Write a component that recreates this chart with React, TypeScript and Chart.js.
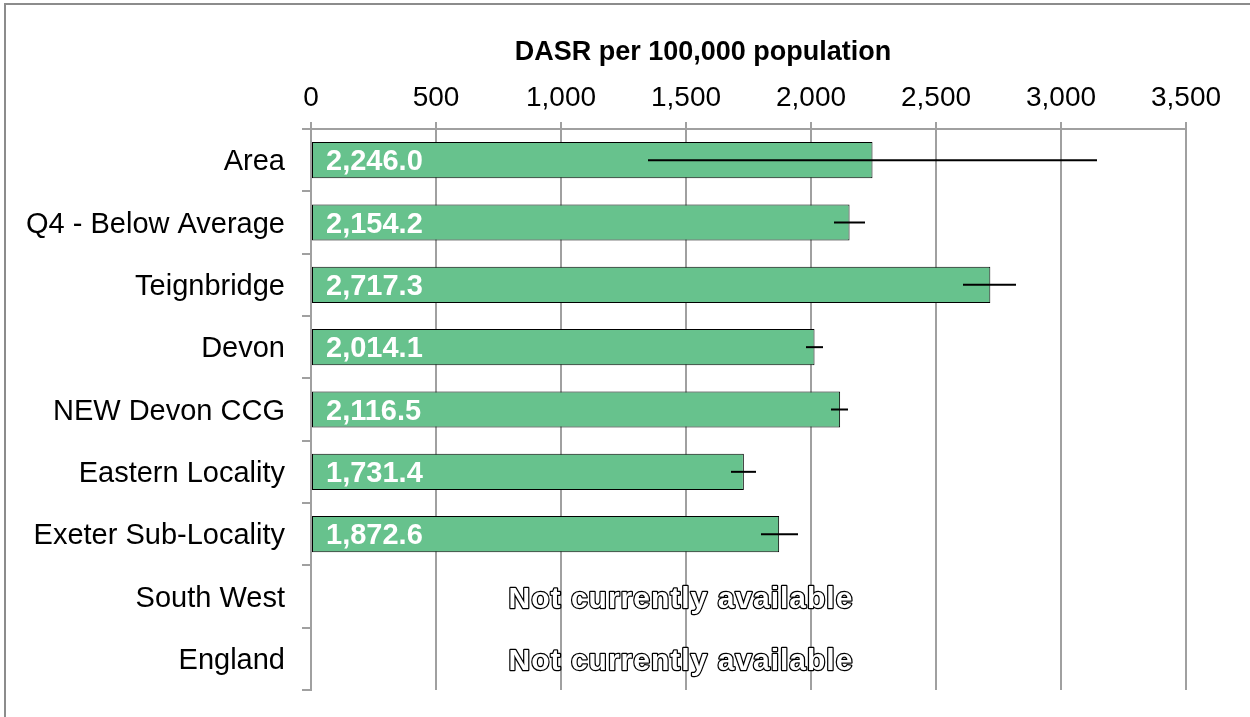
import React, { useEffect, useRef } from "react";
import { Chart, registerables } from "chart.js";

Chart.register(...registerables);

const categories = [
  "Area",
  "Q4 - Below Average",
  "Teignbridge",
  "Devon",
  "NEW Devon CCG",
  "Eastern Locality",
  "Exeter Sub-Locality",
  "South West",
  "England",
];
const values: (number | null)[] = [2246.0, 2154.2, 2717.3, 2014.1, 2116.5, 1731.4, 1872.6, null, null];
const errLow: (number | null)[] = [1348, 2092, 2608, 1980, 2080, 1680, 1800, null, null];
const errHigh: (number | null)[] = [3144, 2216, 2820, 2048, 2148, 1780, 1948, null, null];
const xTicks = [0, 500, 1000, 1500, 2000, 2500, 3000, 3500];
const naText = "Not currently available";
const naAnchorValue = 1480;
const axisTitle = "DASR per 100,000 population";

const FONT = "'Liberation Sans', Arial, sans-serif";

const overlayPlugin = {
  id: "overlay",
  afterDatasetsDraw(chart: any) {
    const ctx = chart.ctx;
    const xs = chart.scales.x;
    const ys = chart.scales.y;
    ctx.save();
    // axis title
    ctx.font = `bold 27px ${FONT}`;
    ctx.fillStyle = "#000";
    ctx.textAlign = "center";
    ctx.textBaseline = "middle";
    ctx.fillText(axisTitle, 703, 53);
    // error bars
    ctx.strokeStyle = "#000";
    ctx.lineWidth = 2;
    for (let i = 0; i < categories.length; i++) {
      const lo = errLow[i];
      const hi = errHigh[i];
      if (lo == null || hi == null) continue;
      const y = ys.getPixelForValue(i);
      ctx.beginPath();
      ctx.moveTo(xs.getPixelForValue(lo), y);
      ctx.lineTo(xs.getPixelForValue(hi), y);
      ctx.stroke();
    }
    // value labels
    ctx.textBaseline = "middle";
    for (let i = 0; i < categories.length; i++) {
      const v = values[i];
      const y = ys.getPixelForValue(i);
      if (v == null) {
        ctx.font = `bold 30px ${FONT}`;
        (ctx as any).letterSpacing = "1px";
        ctx.textAlign = "center";
        ctx.fillStyle = "#fff";
        ctx.strokeStyle = "#000";
        ctx.lineWidth = 2.5;
        ctx.lineJoin = "round";
        const x = xs.getPixelForValue(naAnchorValue);
        ctx.strokeText(naText, x, y + 3);
        ctx.fillText(naText, x, y + 3);
        (ctx as any).letterSpacing = "0px";
      } else {
        ctx.font = `bold 29px ${FONT}`;
        ctx.textAlign = "left";
        ctx.fillStyle = "#fff";
        const txt = v.toLocaleString("en-GB", { minimumFractionDigits: 1, maximumFractionDigits: 1 });
        ctx.fillText(txt, xs.getPixelForValue(0) + 15, y + 2);
      }
    }
    ctx.restore();
  },
};

export default function App() {
  const ref = useRef<HTMLCanvasElement>(null);
  useEffect(() => {
    if (!ref.current) return;
    const chart = new Chart(ref.current, {
      type: "bar",
      data: {
        labels: categories,
        datasets: [
          {
            data: values as any,
            backgroundColor: "#67C28D",
            borderColor: "#000",
            borderWidth: 1,
            borderSkipped: false,
            barPercentage: 0.58,
            categoryPercentage: 1,
          },
        ],
      },
      options: {
        indexAxis: "y",
        animation: false,
        responsive: false,
        maintainAspectRatio: false,
        layout: { padding: { left: 0, right: 64, top: 0, bottom: 27 } },
        plugins: { legend: { display: false }, tooltip: { enabled: false } },
        scales: {
          x: {
            position: "top",
            min: 0,
            max: 3500,
            afterBuildTicks(scale: any) {
              scale.ticks = xTicks.map((v) => ({ value: v }));
            },
            afterFit(scale: any) {
              scale.height = 129;
              scale.paddingLeft = 0;
              scale.paddingRight = 0;
            },
            ticks: {
              color: "#000",
              font: { family: FONT, size: 28 },
              padding: 7,
              callback: (v: any) => Number(v).toLocaleString("en-US"),
            },
            grid: { color: "#A0A0A0", lineWidth: 2, tickLength: 7 },
            border: { color: "#A0A0A0", width: 2 },
          },
          y: {
            afterFit(scale: any) {
              scale.width = 311;
              scale.paddingTop = 0;
              scale.paddingBottom = 0;
            },
            ticks: {
              color: "#000",
              font: { family: FONT, size: 29 },
              padding: 17,
              labelOffset: 2,
            },
            grid: { drawOnChartArea: false, color: "#A0A0A0", lineWidth: 2, tickLength: 9, offset: true },
            border: { color: "#A0A0A0", width: 2 },
          },
        },
      },
      plugins: [overlayPlugin],
    } as any);
    return () => chart.destroy();
  }, []);
  return (
    <div style={{ position: "fixed", left: 0, top: 0, width: 1250, height: 717, background: "#fff", overflow: "hidden" }}>
      <div
        style={{
          position: "absolute",
          left: 4,
          top: 3,
          width: 1300,
          height: 800,
          borderLeft: "2px solid #8C8C8C",
          borderTop: "2px solid #8C8C8C",
        }}
      />
      <canvas ref={ref} width={1250} height={717} style={{ position: "absolute", left: 0, top: 0 }} />
    </div>
  );
}
